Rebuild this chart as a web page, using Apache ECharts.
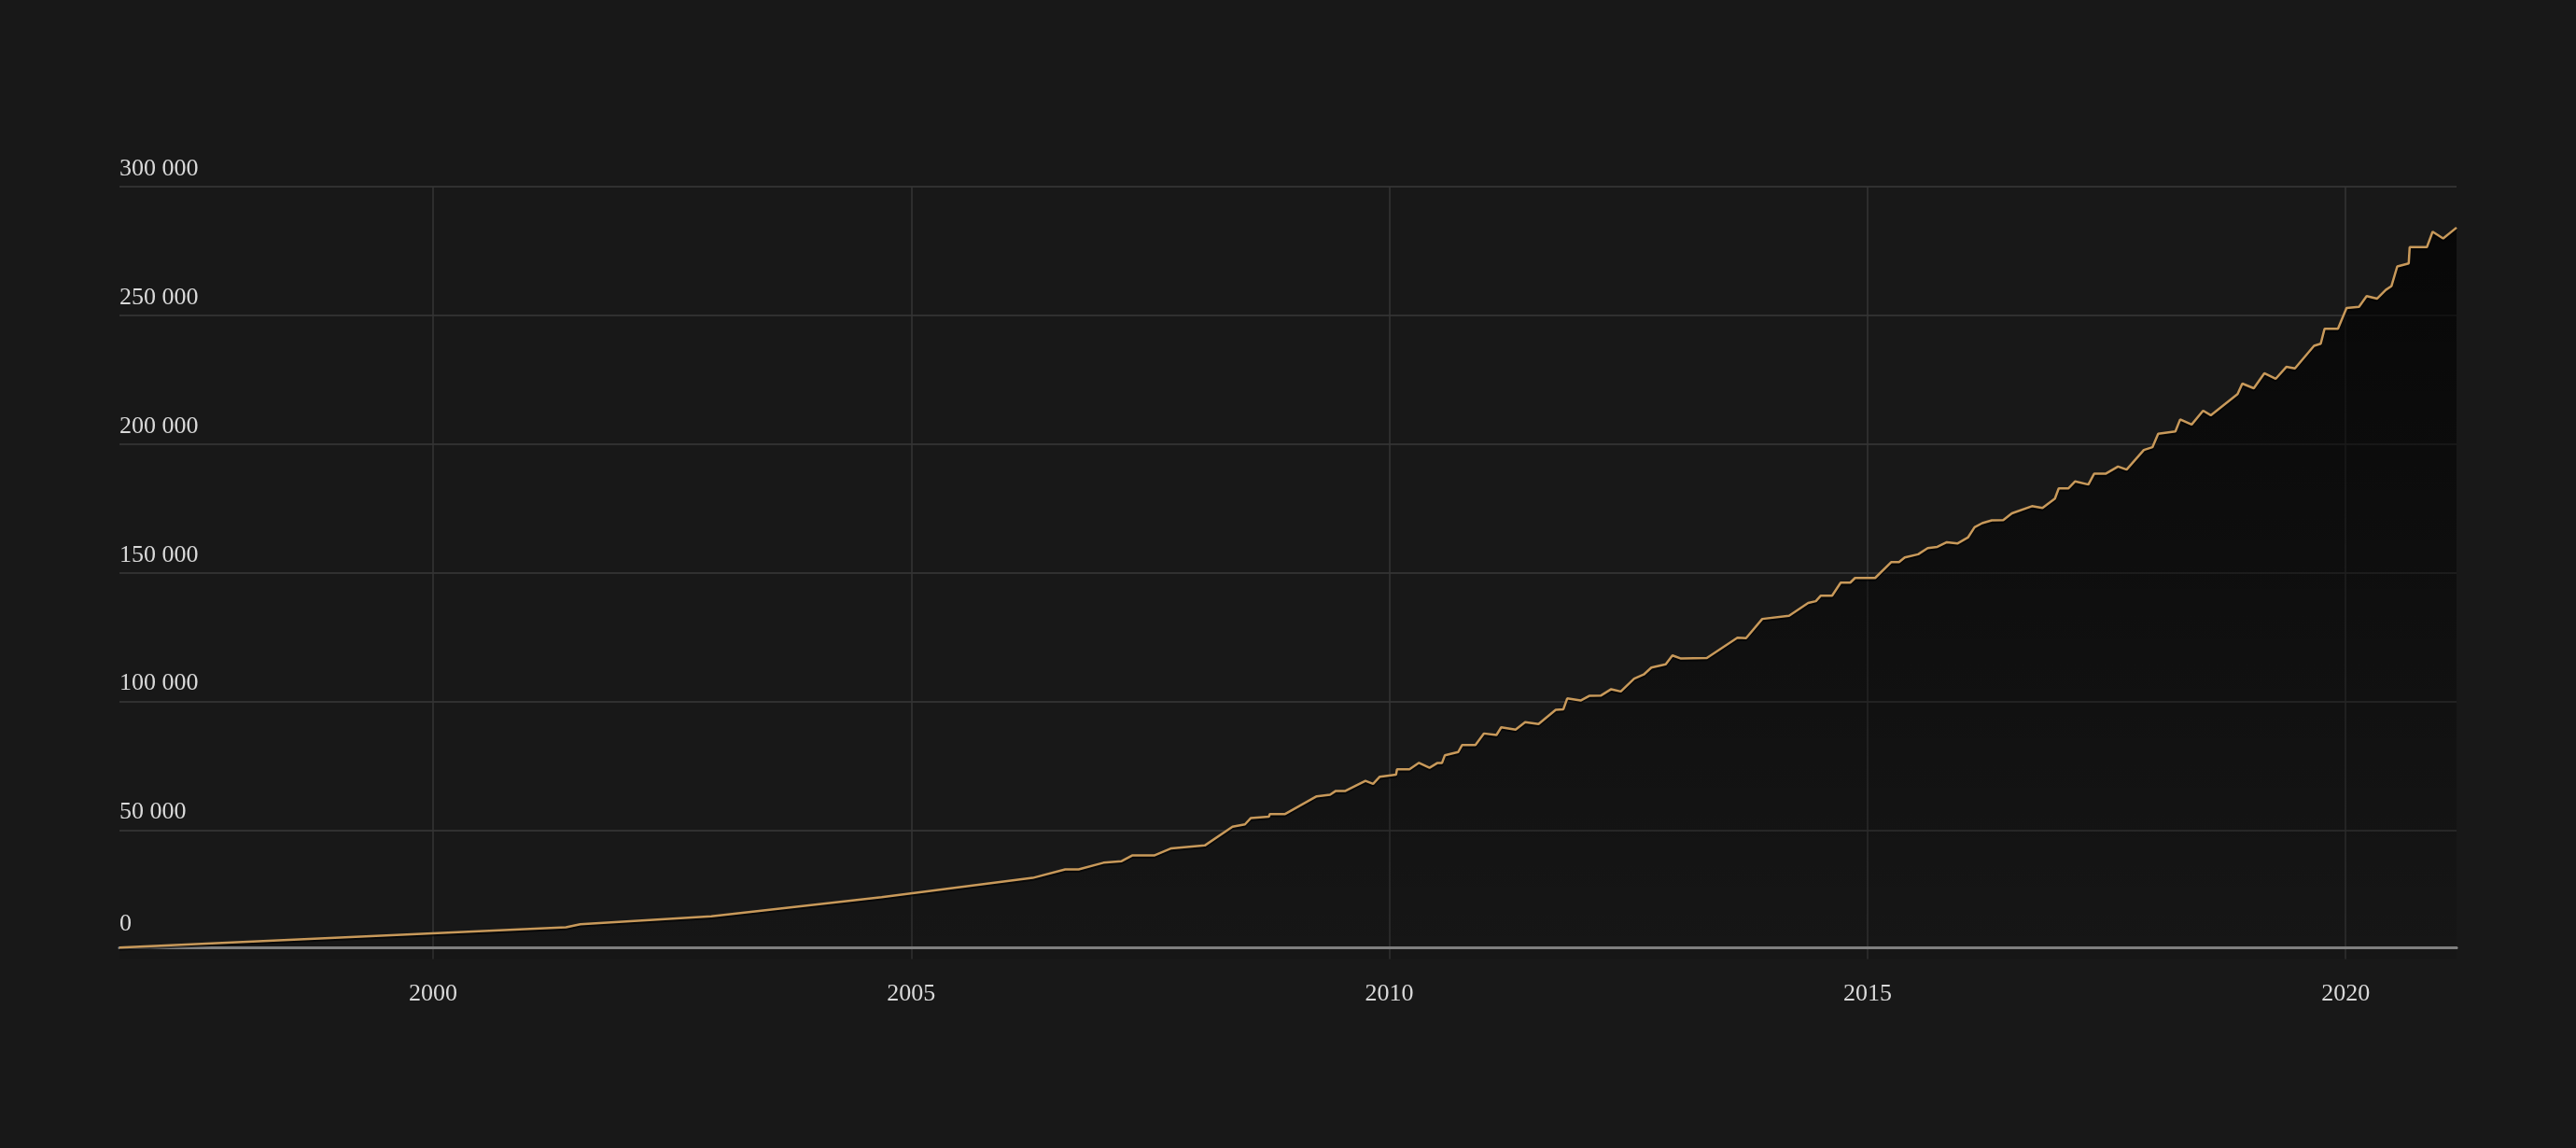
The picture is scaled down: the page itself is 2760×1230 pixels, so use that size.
<!DOCTYPE html>
<html>
<head>
<meta charset="utf-8">
<style>
  html, body { margin: 0; padding: 0; background: #181818; }
  #chart { width: 2760px; height: 1230px; }
</style>
<script src="https://cdn.jsdelivr.net/npm/echarts@6/dist/echarts.min.js"></script>
</head>
<body>
<div id="chart"></div>
<script>
// Dates as decimal years
const dates = [
  1996.72, 2001.39, 2001.54, 2002.91, 2004.69, 2006.27, 2006.61, 2006.75, 2007.01, 2007.20,
  2007.31, 2007.54, 2007.72, 2008.07, 2008.36, 2008.49, 2008.55, 2008.74, 2008.75, 2008.91,
  2009.24, 2009.38, 2009.44, 2009.54, 2009.75, 2009.83, 2009.90, 2010.07, 2010.08, 2010.21,
  2010.31, 2010.42, 2010.50, 2010.55, 2010.58, 2010.72, 2010.76, 2010.90, 2010.99, 2011.12,
  2011.17, 2011.32, 2011.42, 2011.56, 2011.74, 2011.82, 2011.86, 2012.00, 2012.09, 2012.21,
  2012.32, 2012.42, 2012.56, 2012.66, 2012.74, 2012.89, 2012.96, 2013.05, 2013.32, 2013.64,
  2013.73, 2013.90, 2014.18, 2014.38, 2014.46, 2014.51, 2014.63, 2014.72, 2014.82, 2014.87,
  2015.08, 2015.25, 2015.33, 2015.39, 2015.53, 2015.63, 2015.73, 2015.83, 2015.94, 2016.05,
  2016.12, 2016.20, 2016.30, 2016.42, 2016.51, 2016.72, 2016.83, 2016.96, 2017.00, 2017.10,
  2017.17, 2017.31, 2017.37, 2017.49, 2017.62, 2017.71, 2017.89, 2017.98, 2018.04, 2018.22,
  2018.27, 2018.39, 2018.51, 2018.59, 2018.87, 2018.92, 2019.04, 2019.15, 2019.27, 2019.38,
  2019.47, 2019.67, 2019.74, 2019.78, 2019.92, 2020.01, 2020.14, 2020.22, 2020.33, 2020.42,
  2020.48, 2020.54, 2020.66, 2020.67, 2020.85, 2020.91, 2021.02, 2021.16
];
const values = [
  4400, 12300, 13500, 16600, 24000, 31500, 34800, 34800, 37400, 38000,
  40200, 40200, 43000, 44100, 51400, 52300, 54700, 55300, 56300, 56300,
  63200, 63800, 65300, 65300, 69200, 68000, 70800, 71600, 73700, 73700,
  76200, 74300, 76100, 76100, 79100, 80400, 83100, 83100, 87600, 87000,
  90000, 89100, 92000, 91300, 96800, 97000, 101200, 100400, 102200, 102300,
  104800, 103900, 108900, 110500, 113200, 114500, 117900, 116700, 116900, 124800,
  124600, 132100, 133300, 138300, 139000, 141100, 141100, 146200, 146200, 148000,
  148000, 154200, 154200, 156000, 157200, 159600, 160100, 161900, 161400, 163700,
  167700, 169300, 170400, 170500, 173100, 175900, 175200, 178800, 182800, 182800,
  185500, 184300, 188500, 188500, 191300, 190100, 197700, 198800, 204000, 204900,
  209600, 207600, 213000, 211200, 219400, 223500, 221700, 227500, 225400, 230000,
  229400, 238200, 239000, 244800, 244800, 252900, 253300, 257500, 256500, 259900,
  261400, 269000, 270200, 276500, 276500, 282500, 279900, 284100
];
const xTicks = [2000, 2005, 2010, 2015, 2020];
const yTicks = [0, 50000, 100000, 150000, 200000, 250000, 300000];

const FONT = '"Liberation Serif", "DejaVu Serif", serif';
const seriesData = dates.map((d, i) => [d, values[i]]);
function fmt(v) { return String(v).replace(/\B(?=(\d{3})+(?!\d))/g, ' '); }

const chart = echarts.init(document.getElementById('chart'), null, { renderer: 'canvas' });
chart.setOption({
  backgroundColor: '#181818',
  animation: false,
  grid: { left: 128, right: 128, top: 200, bottom: 202.5, containLabel: false },
  xAxis: {
    type: 'value',
    min: 'dataMin',
    max: 'dataMax',
    offset: -12,
    axisLine: { show: true, lineStyle: { color: '#8c8c8c', width: 3 } },
    axisTick: { show: false, customValues: xTicks },
    axisLabel: {
      customValues: xTicks,
      color: '#d9d9d9',
      fontFamily: FONT,
      fontSize: 26,
      margin: 37,
      formatter: v => String(v)
    },
    splitLine: { show: true, lineStyle: { color: '#343434', width: 1.5 } }
  },
  yAxis: {
    type: 'value',
    min: 0,
    max: 300000,
    interval: 50000,
    axisLine: { show: false },
    axisTick: { show: false },
    axisLabel: {
      inside: true,
      margin: 0,
      verticalAlign: 'bottom',
      color: '#d9d9d9',
      fontFamily: FONT,
      fontSize: 26,
      padding: [0, 0, 6, 0],
      formatter: v => v === 0 ? '{z|0}' : fmt(v),
      rich: {
        z: { color: '#d9d9d9', fontFamily: FONT, fontSize: 26, padding: [0, 0, 18, 0] }
      }
    },
    splitLine: { show: true, showMinLine: false, lineStyle: { color: '#303030', width: 2 } }
  },
  series: [{
    type: 'line',
    data: seriesData,
    showSymbol: false,
    symbol: 'none',
    lineStyle: {
      color: '#c8995a',
      width: 2.5,
      shadowColor: 'rgba(0,0,0,0.6)',
      shadowBlur: 0,
      shadowOffsetY: 2
    },
    areaStyle: {
      color: new echarts.graphic.LinearGradient(0, 0, 0, 1, [
        { offset: 0, color: 'rgba(0,0,0,1)' },
        { offset: 1, color: 'rgba(0,0,0,0.12)' }
      ])
    },
    z: 2
  }]
});
</script>
</body>
</html>
